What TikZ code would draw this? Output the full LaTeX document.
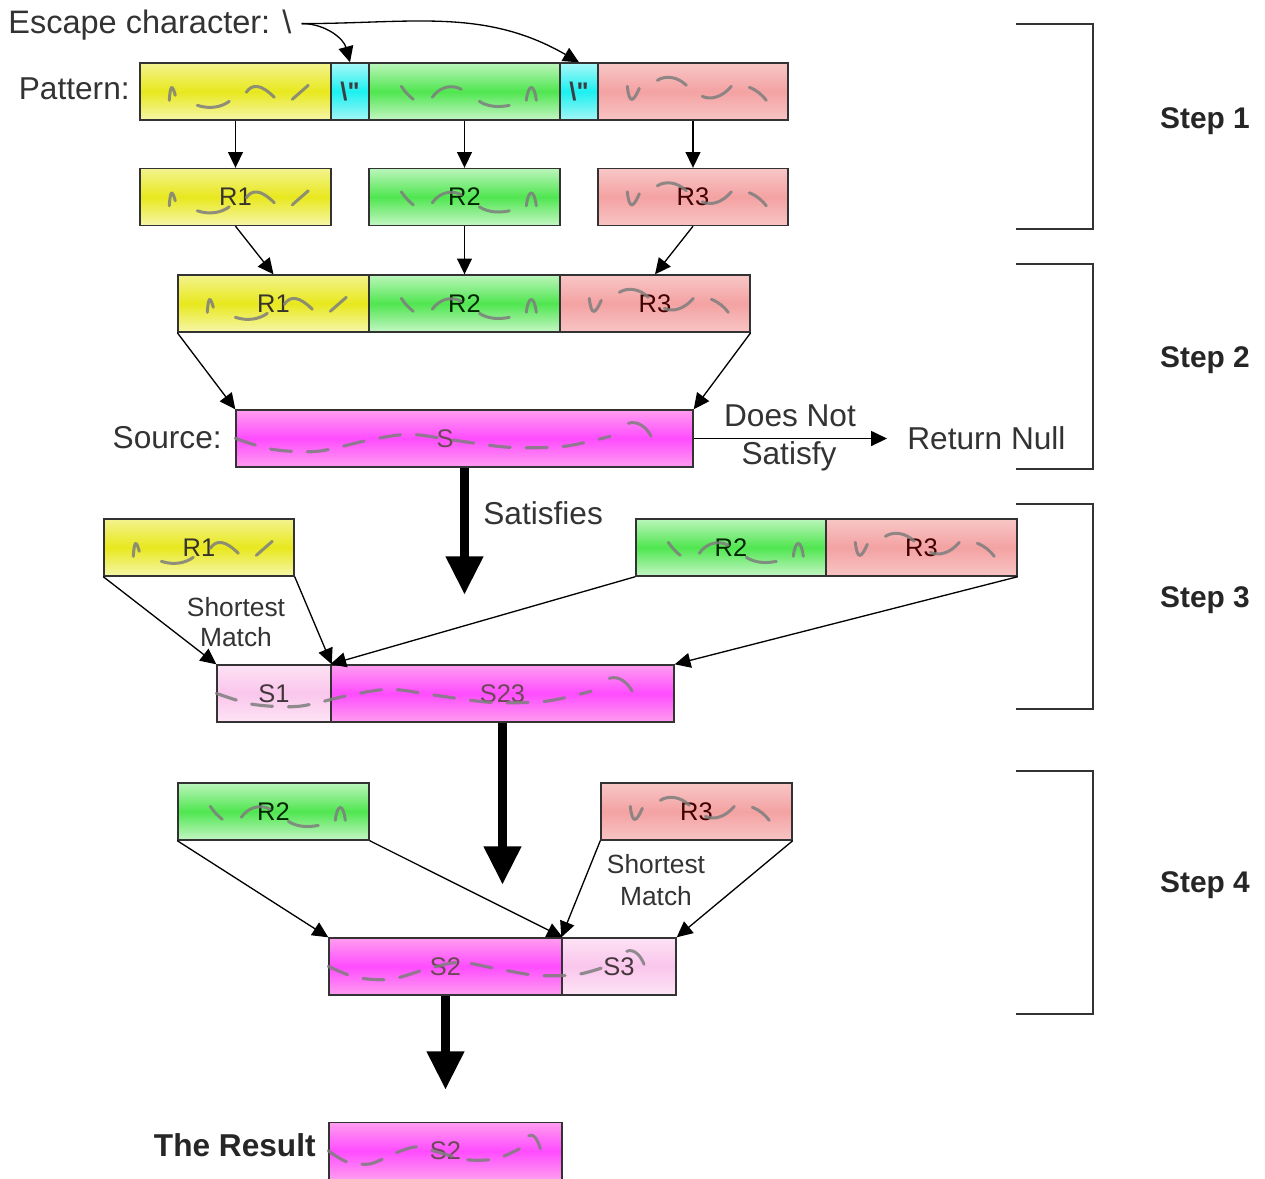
\documentclass[tikz,border=0pt]{standalone}
\usepackage{fontspec}
\setmainfont{Liberation Sans}
\usetikzlibrary{arrows.meta,calc}
\definecolor{bline}{HTML}{333333}
\definecolor{txt}{HTML}{333333}
\definecolor{sqc}{HTML}{7E7E7E}
\definecolor{ya}{HTML}{F3F38E}\definecolor{yb}{HTML}{E8E81E}\definecolor{yc}{HTML}{F6F6AA}
\definecolor{ga}{HTML}{BBF5BB}\definecolor{gb}{HTML}{50E650}\definecolor{gc}{HTML}{C4F6C4}
\definecolor{ra}{HTML}{F8C6C6}\definecolor{rb}{HTML}{F4A2A2}\definecolor{rc}{HTML}{F8C4C4}
\definecolor{ma}{HTML}{FF9DEF}\definecolor{mb}{HTML}{FF4CFF}\definecolor{mc}{HTML}{FF9DEF}
\definecolor{la}{HTML}{FDE2F4}\definecolor{lb}{HTML}{FAC6EC}\definecolor{lc}{HTML}{FDE4F5}
\definecolor{ca}{HTML}{A8F8F8}\definecolor{cb}{HTML}{1CF0F0}\definecolor{cc}{HTML}{A4F6F6}
\newcommand\straightq{\XeTeXglyph\XeTeXcharglyph"22\relax}
\newcommand\sqyel[1]{\begin{scope}[shift={(#1.north west)}]
 \draw[sq] (30,38) .. controls (31,22) and (33,22) .. (36,33);
 \draw[sq] (58,43) .. controls (70,47) and (82,45) .. (90,39);
 \draw[sq] (107,30) .. controls (113,21) and (122,22) .. (135,35);
 \draw[sq] (153,37) -- (169,23);
\end{scope}}
\newcommand\sqgrn[1]{\begin{scope}[shift={(#1.north west)}]
 \draw[sq] (33,24) .. controls (37,30) and (41,34) .. (45,37);
 \draw[sq] (64,35) .. controls (70,26) and (82,21) .. (93,27);
 \draw[sq] (111,39) .. controls (120,45) and (132,45) .. (141,43);
 \draw[sq] (158,38) .. controls (160,21) and (166,21) .. (168,38);
\end{scope}}
\newcommand\sqred[1]{\begin{scope}[shift={(#1.north west)}]
 \draw[sq] (30,24) .. controls (32,42) and (36,40) .. (42,26);
 \draw[sq] (60,18) .. controls (68,13) and (80,14) .. (89,23);
 \draw[sq] (105,34) .. controls (113,38) and (125,35) .. (134,24);
 \draw[sq] (152,25) .. controls (160,28) and (165,33) .. (169,38);
\end{scope}}
\newcommand\wave[2]{\begin{scope}[shift={(#1.north west)}, xscale=#2/100]
 \draw[wv] plot[smooth] coordinates {(0,29) (8,40) (18,42) (29,31) (38,25) (48,31) (60,38) (72,37) (82,27)};
 \draw[sq] (86,14) .. controls (88,11) and (90,18) .. (91,27);
\end{scope}}
\begin{document}
\begin{tikzpicture}[x=0.02cm,y=-0.02cm,
 box/.style={draw=bline, line width=0.8pt, inner sep=0pt, minimum height=1.14cm, font=\fontsize{14.5}{16}\selectfont},
 wd/.style={minimum width=#1*0.02cm},
 ybox/.style={box, top color=ya, bottom color=yc, middle color=yb, text=black!80!olive},
 gbox/.style={box, top color=ga, bottom color=gc, middle color=gb, text=black!85!green},
 rbox/.style={box, top color=ra, bottom color=rc, middle color=rb, text=black!75!red},
 mbox/.style={box, top color=ma, bottom color=mc, middle color=mb, text=black!65!magenta},
 lbox/.style={box, top color=la, bottom color=lc, middle color=lb, text=black!85!magenta},
 cbox/.style={box, top color=ca, bottom color=cc, middle color=cb, text=black!85!cyan},
 sq/.style={draw=sqc, line width=1.7pt, line cap=round, opacity=0.85},
 wv/.style={draw=sqc, line width=1.8pt, line cap=round, dash pattern=on 12pt off 9pt, opacity=0.85},
 arr/.style={-{Triangle[length=9pt,width=8.5pt]}, line width=0.75pt, draw=black},
 bigarr/.style={-{Triangle[length=22pt,width=20pt]}, line width=5.5pt, draw=black},
 lbl/.style={font=\fontsize{18}{21}\selectfont, text=txt, inner sep=0pt},
 small/.style={font=\fontsize{15}{17.5}\selectfont, text=txt, inner sep=0pt, align=center},
 steplbl/.style={font=\bfseries\fontsize{17}{20}\selectfont, text=black!85, inner sep=0pt},
 brk/.style={line width=1.4pt, draw=bline}]
\fill[white] (0,0) rectangle (1265,1178);
\useasboundingbox (0,0) rectangle (1265,1178);

% labels
\node[lbl, anchor=base west, font=\fontsize{18.5}{21}\selectfont] (esc) at (8,33) {Escape character: \textbackslash};
\node[lbl, anchor=east] (pl) at (130,89) {Pattern:};
\node[lbl, anchor=east] (sl) at (222,438) {Source:};

% step 1
\node[ybox, wd=191] (p1) at (235.5,91.5) {};
\node[cbox, wd=38] (e1) at (350,91.5) {\bfseries\textbackslash\straightq};
\node[gbox, wd=191] (p2) at (464.5,91.5) {};
\node[cbox, wd=38] (e2) at (579,91.5) {\bfseries\textbackslash\straightq};
\node[rbox, wd=190] (p3) at (693,91.5) {};
\node[ybox, wd=191] (r1) at (235.5,197) {R1};
\node[gbox, wd=191] (r2) at (464.5,197) {R2};
\node[rbox, wd=190] (r3) at (693,197) {R3};

% step 2
\node[ybox, wd=191] (c1) at (273.5,303.5) {R1};
\node[gbox, wd=191] (c2) at (464.5,303.5) {R2};
\node[rbox, wd=190] (c3) at (655,303.5) {R3};
\node[mbox, wd=457] (src) at (464.5,438.5) {S\hspace*{22pt}};
\node[lbl, anchor=west] (rn) at (907,438) {Return Null};
\node[lbl, anchor=base] (dn1) at (790,426) {Does Not};
\node[lbl, anchor=base] (dn2) at (789,464) {Satisfy};
\node[lbl, anchor=west] (sat) at (483,513) {Satisfies};

% step 3
\node[ybox, wd=190] (t1) at (199,547.5) {R1};
\node[gbox, wd=190] (t2) at (731,547.5) {R2};
\node[rbox, wd=191] (t3) at (921.5,547.5) {R3};
\node[lbox, wd=114] (s1) at (274,693.5) {S1};
\node[mbox, wd=343] (s23) at (502.5,693.5) {S23};
\node[small] (sm1) at (236,622) {Shortest\\Match};

% step 4
\node[gbox, wd=191] (u2) at (273.5,811.5) {R2};
\node[rbox, wd=191] (u3) at (696.5,811.5) {R3};
\node[mbox, wd=233] (s2) at (445.5,966.5) {S2};
\node[lbox, wd=114] (s3) at (619,966.5) {S3};
\node[small, font=\fontsize{15}{18.3}\selectfont] (sm2) at (656,880) {Shortest\\Match};

% result
\node[mbox, wd=233] (res) at (445.5,1151) {S2};
\node[steplbl, anchor=base east, font=\bfseries\fontsize{18}{20}\selectfont] (rl) at (316,1156) {The Result};

% squiggles
\sqyel{p1}\sqgrn{p2}\sqred{p3}
\sqyel{r1}\sqgrn{r2}\sqred{r3}
\sqyel{c1}\sqgrn{c2}\sqred{c3}
\sqyel{t1}\sqgrn{t2}\sqred{t3}
\sqgrn{u2}\sqred{u3}
\wave{src}{457}
\wave{s1}{457}
\wave{s2}{347}
\wave{res}{233}

% escape arrows
\coordinate (es) at ($(esc.east)+(10,-1)$);
\draw[arr] (es) to[out=0,in=105] (e1.north);
\draw[arr] (es) to[out=0,in=150] (e2.north);

% step 1 arrows
\draw[arr] (p1.south) -- (r1.north);
\draw[arr] (p2.south) -- (r2.north);
\draw[arr] (p3.south) -- (r3.north);
\draw[arr] (r1.south) -- (c1.north);
\draw[arr] (r2.south) -- (c2.north);
\draw[arr] (r3.south) -- (c3.north);

% step 2 arrows
\draw[arr] (c1.south west) -- (src.north west);
\draw[arr] (c3.south east) -- (src.north east);
\draw[arr] (src.east) -- ($(src.east -| rn.west)+(-20,0)$);
\coordinate (k1) at (464.5,595);
\draw[bigarr] (src.south) -- (k1);

% step 3 arrows
\draw[arr] (t1.south west) -- (s1.north west);
\draw[arr] (t1.south east) -- (s1.north east);
\draw[arr] (t2.south west) -- (s23.north west);
\draw[arr] (t3.south east) -- (s23.north east);
\coordinate (k2) at (502.5,885);
\draw[bigarr] (s23.south) -- (k2);

% step 4 arrows
\draw[arr] (u2.south west) -- (s2.north west);
\draw[arr] (u2.south east) -- (s2.north east);
\draw[arr] (u3.south west) -- (s3.north west);
\draw[arr] (u3.south east) -- (s3.north east);
\coordinate (k3) at (445.5,1090);
\draw[bigarr] (s2.south) -- (k3);

% brackets
\draw[brk] (1016,24) -| (1093,229) -- (1016,229);
\draw[brk] (1016,264) -| (1093,469) -- (1016,469);
\draw[brk] (1016,504) -| (1093,709) -- (1016,709);
\draw[brk] (1016,771) -| (1093,1014) -- (1016,1014);
\node[steplbl, anchor=base] (st1) at (1205,128) {Step 1};
\node[steplbl, anchor=base] (st2) at (1205,367) {Step 2};
\node[steplbl, anchor=base] (st3) at (1205,607) {Step 3};
\node[steplbl, anchor=base] (st4) at (1205,892) {Step 4};
\end{tikzpicture}
\end{document}
